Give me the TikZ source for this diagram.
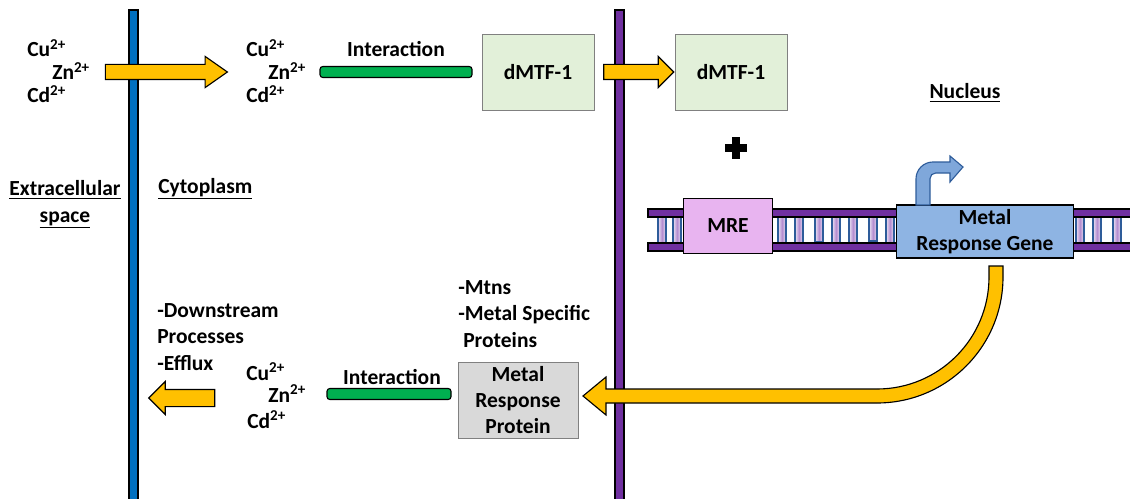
\documentclass[tikz,border=0pt]{standalone}
\usepackage{fontspec}
\setmainfont{Carlito}
\usetikzlibrary{shapes,arrows,positioning,calc}

\definecolor{ionyellow}{HTML}{FFC000}
\definecolor{membblue}{HTML}{0070C0}
\definecolor{membpurple}{HTML}{7030A0}
\definecolor{bondgreen}{HTML}{00B050}
\definecolor{boxgreen}{HTML}{E2F0D9}
\definecolor{mrepink}{HTML}{E8B4F0}
\definecolor{geneblue}{HTML}{8EB4E3}
\definecolor{promblue}{HTML}{7FA7DA}
\definecolor{rungblue}{HTML}{2E5C9A}
\definecolor{rungfill}{HTML}{B48CD0}

\newcommand{\pxl}{0.025cm}

\begin{document}
\begin{tikzpicture}[x=0.025cm, y=-0.025cm,
    lbl/.style={font=\bfseries\fontsize{15.3}{18.5}\selectfont, inner sep=0pt},
    ion/.style={lbl, anchor=base west},
    flowarrow/.style={single arrow, draw=black, thick, fill=ionyellow, inner sep=7*\pxl,
        single arrow head extend=8*\pxl, single arrow head indent=0pt, single arrow tip angle=90},
    bond/.style={draw=black, thick, fill=bondgreen, rounded corners=2pt, minimum height=11*\pxl, inner sep=0pt},
    tfbox/.style={lbl, draw=gray, fill=boxgreen, minimum width=112*\pxl, minimum height=76*\pxl},
    rung/.style={draw=rungblue, thick, left color=rungfill!25, right color=rungfill!25, middle color=rungfill},
    backbone/.style={draw=black, thick, fill=membpurple}
]
\useasboundingbox (0,0) rectangle (1130,499);

% Membranes
\draw[thick, fill=membblue] (129,10) rectangle (138,505);
\draw[thick, fill=membpurple] (615,10) rectangle (624,505);

% Compartment labels
\node[lbl, align=center, anchor=base] (extra) at (65,222) {\underline{Extracellular}\\\underline{space}};
\node[lbl, anchor=base west] (cyto) at (158,193) {\underline{Cytoplasm}};
\node[lbl, anchor=base] (nucl) at (965,99) {\underline{Nucleus}};

% Metal ions
\node[ion] (cuout) at (27,57) {Cu\textsuperscript{2+}};
\node[ion] (znout) at (52,80) {Zn\textsuperscript{2+}};
\node[ion] (cdout) at (27,103) {Cd\textsuperscript{2+}};
\node[ion] (cuin) at (246,57) {Cu\textsuperscript{2+}};
\node[ion] (znin) at (268,80) {Zn\textsuperscript{2+}};
\node[ion] (cdin) at (246,103) {Cd\textsuperscript{2+}};
\node[ion] (cuback) at (246,380) {Cu\textsuperscript{2+}};
\node[ion] (znback) at (268,402) {Zn\textsuperscript{2+}};
\node[ion] (cdback) at (247,428) {Cd\textsuperscript{2+}};

% Uptake and transport arrows
\node[flowarrow, single arrow tip angle=70, minimum height=122*\pxl] (uptake) at (161,72) {};
\node[flowarrow, minimum height=70*\pxl] (import) at (635,72) {};
\node[flowarrow, shape border rotate=180, inner sep=8*\pxl, minimum height=66*\pxl] (efflux) at (186,398) {};

% dMTF-1
\node[bond, minimum width=152*\pxl] (bondtop) at (396,72) {};
\node[lbl, anchor=base] (inttop) at (396,57) {Interaction};
\node[tfbox] (mtfcyt) at (538,72) {dMTF-1};
\node[tfbox] (mtfnuc) at (731,72) {dMTF-1};

% Plus sign
\draw[line width=8*\pxl] (725,148) -- (747,148);
\draw[line width=8*\pxl] (736,137) -- (736,159);

% DNA
\foreach \x/\dy in {662/0, 677/0, 782/0, 799/0, 819/-1, 836/0, 853/0, 873/-2, 890/0, 1080/0, 1097/0, 1117/0}
    \draw[rung] (\x-4,214+\dy) rectangle (\x+4,243+\dy);
\draw[backbone] (648,209) rectangle (1135,217);
\draw[backbone] (648,243) rectangle (1135,251);
\node[lbl, draw=black, thick, fill=mrepink, minimum width=89*\pxl, minimum height=55*\pxl] (mre) at (728,226) {MRE};
\node[lbl, draw=black, thick, fill=geneblue, align=center, minimum width=177*\pxl, minimum height=53*\pxl] (gene) at (985,231.5) {Metal\\Response Gene};

% Transcription start
\draw[draw=rungblue, thick, fill=promblue]
    (916,205) [rounded corners=12pt] -- (916,162) [sharp corners] -- (950,162) -- (950,156) -- (963,167)
    -- (950,182) -- (950,173) [rounded corners=4pt] -- (930,173) [sharp corners] -- (930,205) -- cycle;

% Expression arrow
\draw[thick, fill=ionyellow]
    (989,266) -- (1003,266) -- (1003,277) arc[start angle=0, end angle=-90, radius=126*\pxl]
    -- (606,403) -- (606,415) -- (583,396) -- (606,377) -- (606,389) -- (877,389)
    arc[start angle=-90, end angle=0, radius=112*\pxl] -- cycle;

% Metal response protein
\node[lbl, draw=gray, fill=gray!30, align=center, minimum width=120*\pxl, minimum height=76*\pxl] (mrp) at (518,400) {Metal\\Response\\Protein};
\node[lbl, align=left, anchor=base west] (mtns) at (458,347) {-Mtns\\-Metal Specific\\\hspace{0.125cm}Proteins};
\node[bond, minimum width=124*\pxl] (bondbot) at (389,394) {};
\node[lbl, anchor=base] (intbot) at (392,384) {Interaction};
\node[lbl, align=left, anchor=base west] (down) at (157,370) {-Downstream\\Processes\\-Efflux};
\end{tikzpicture}
\end{document}
